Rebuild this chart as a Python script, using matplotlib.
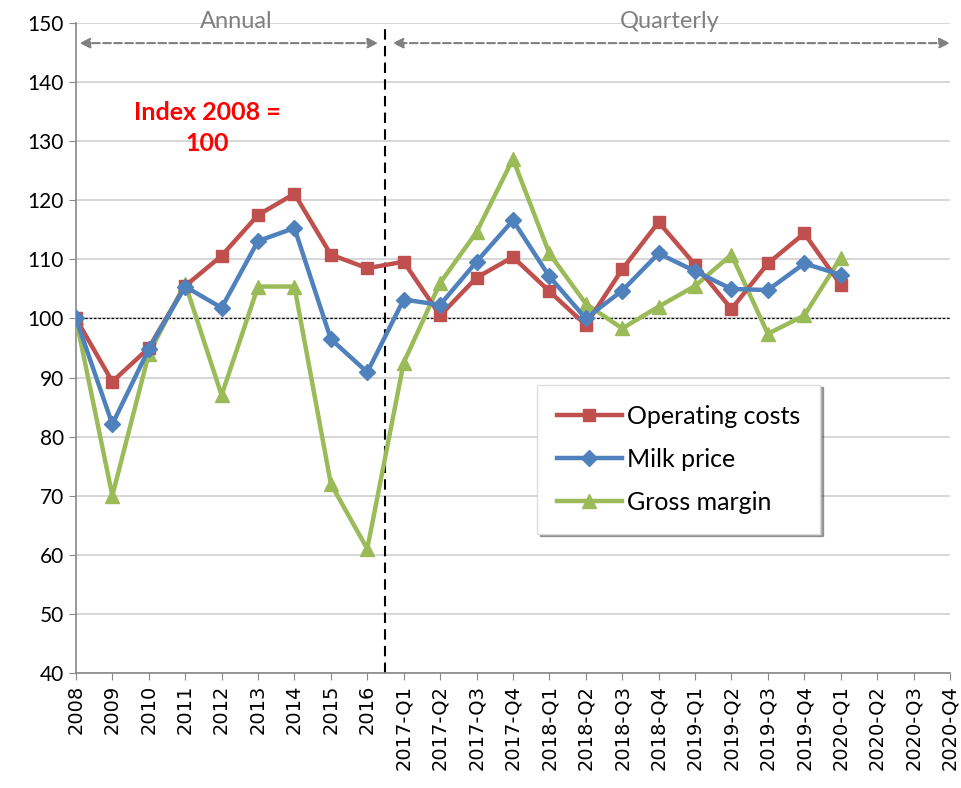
import matplotlib
matplotlib.use("Agg")
from matplotlib import pyplot as plt

# categories: 9 annual points then 16 quarters
years = [str(y) for y in range(2008, 2017)]
quarters = ["%d-Q%d" % (y, q) for y in range(2017, 2021) for q in range(1, 5)]
categories = years + quarters

operating_costs = [100, 89.3, 95.0, 105.5, 110.6, 117.5, 121.1, 110.8, 108.5,
                   109.6, 100.5, 106.9, 110.4, 104.6, 98.9, 108.3, 116.3,
                   109.1, 101.6, 109.3, 114.4, 105.7]
milk_price = [100, 82.1, 94.8, 105.4, 101.8, 113.1, 115.3, 96.5, 90.9,
              103.2, 102.3, 109.6, 116.6, 107.1, 100.0, 104.7, 111.0,
              108.0, 105.0, 104.8, 109.3, 107.4]
gross_margin = [100, 70.0, 94.0, 105.9, 87.0, 105.4, 105.4, 72.0, 61.0,
                92.5, 106.0, 114.6, 127.0, 111.0, 102.5, 98.3, 102.0,
                105.5, 110.8, 97.4, 100.5, 110.3]

plt.rcParams['font.family'] = ['Lato', 'DejaVu Sans']

fig = plt.figure(figsize=(9.61, 7.88), dpi=100)
ax = fig.add_axes([0.079, 0.146, 0.9095, 0.8248])

x = list(range(len(operating_costs)))
ax.plot(x, operating_costs, color='#C0504D', lw=3.2, marker='s', ms=9,
        label='Operating costs', zorder=4)
ax.plot(x, milk_price, color='#4F81BD', lw=3.2, marker='D', ms=8,
        label='Milk price', zorder=5)
ax.plot(x, gross_margin, color='#9BBB59', lw=3.2, marker='^', ms=10,
        label='Gross margin', zorder=3)

ax.set_xlim(0, len(categories) - 1)
ax.set_ylim(40, 150)
ax.set_yticks(range(40, 151, 10))
ax.set_xticks(range(len(categories)))
ax.set_xticklabels(categories, rotation=90, fontsize=14, family='DejaVu Sans')
ax.tick_params(axis='y', labelsize=15, color='#888888', length=5)
ax.tick_params(axis='x', color='#888888', length=5)
ax.grid(axis='y', color='#d0d0d0', lw=1.2)
ax.set_axisbelow(True)
for s in ['top', 'right']:
    ax.spines[s].set_visible(False)
for s in ['left', 'bottom']:
    ax.spines[s].set_color('#888888')
    ax.spines[s].set_linewidth(1.2)

# base line and annual / quarterly split
ax.axhline(100, color='black', lw=0.9, ls=(0, (2, 1.5)), zorder=2)
split = len(years) - 0.5
ax.axvline(split, color='black', lw=1.5, ls=(0, (5, 3)), zorder=2)

arrow = dict(arrowstyle='<|-|>', color='#808080', lw=1.5, ls='--',
             mutation_scale=15, shrinkA=0, shrinkB=0)
ax.annotate('', xy=(0.1, 146.6), xytext=(split - 0.2, 146.6), arrowprops=arrow)
ax.annotate('', xy=(split + 0.2, 146.6), xytext=(len(categories) - 1, 146.6),
            arrowprops=arrow, annotation_clip=False)
ax.text(4.4, 150.3, 'Annual', color='#808080', fontsize=17, ha='center', va='center')
ax.text(16.3, 150.3, 'Quarterly', color='#808080', fontsize=17, ha='center', va='center')

ax.text(3.6, 132.2, 'Index 2008 =\n100', color='red', fontsize=18,
        fontweight='bold', ha='center', va='center', linespacing=1.4)

leg = ax.legend(loc='upper left', bbox_to_anchor=(0.513, 0.463), fontsize=18,
                frameon=True, fancybox=False, shadow=True, edgecolor='#dddddd',
                handlelength=2.6, handletextpad=0.2, labelspacing=0.8,
                borderpad=0.8)

fig.savefig('out.png', dpi=100)
